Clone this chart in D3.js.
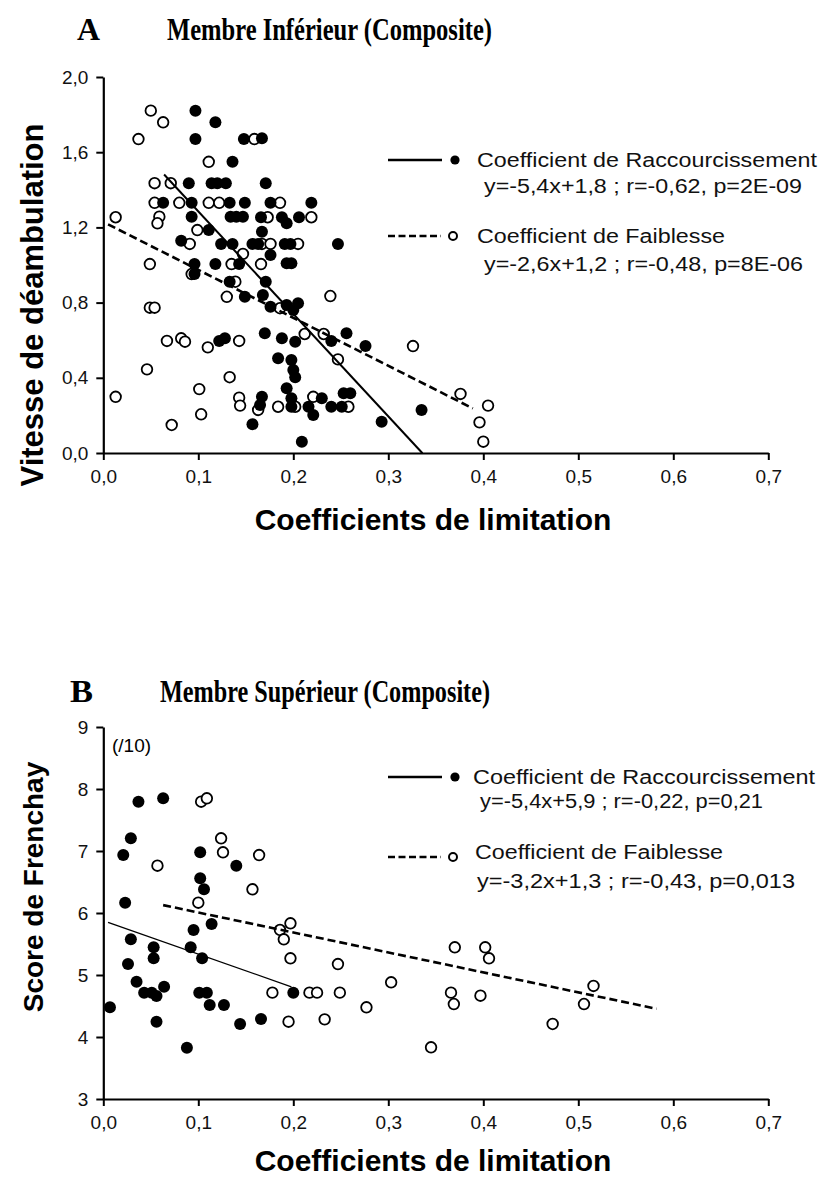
<!DOCTYPE html>
<html><head><meta charset="utf-8">
<script src="https://cdn.jsdelivr.net/npm/d3@7"></script>
<style>body{margin:0;background:#fff}</style>
</head><body>
<svg id="c" width="820" height="1182"></svg>
<script>
// ---------- data ----------
const xTicks = [0, 0.1, 0.2, 0.3, 0.4, 0.5, 0.6, 0.7];
const xTickLabels = ["0,0", "0,1", "0,2", "0,3", "0,4", "0,5", "0,6", "0,7"];
const yTicksA = [0, 0.4, 0.8, 1.2, 1.6, 2.0];
const yTickLabelsA = ["0,0", "0,4", "0,8", "1,2", "1,6", "2,0"];
const yTicksB = [3, 4, 5, 6, 7, 8, 9];
const yTickLabelsB = ["3", "4", "5", "6", "7", "8", "9"];

// Panel A – filled: Coefficient de Raccourcissement
const shortA = [
 [0.097,1.821],[0.118,1.759],[0.097,1.670],[0.148,1.670],[0.136,1.549],[0.090,1.435],[0.114,1.435],[0.120,1.435],
 [0.129,1.435],[0.063,1.331],[0.093,1.331],[0.133,1.331],[0.149,1.331],[0.093,1.257],[0.134,1.257],[0.140,1.257],
 [0.147,1.257],[0.111,1.186],[0.082,1.129],[0.124,1.112],[0.136,1.112],[0.157,1.112],[0.096,1.005],[0.118,1.005],
 [0.143,1.005],[0.096,0.952],[0.133,0.911],[0.149,0.831],[0.122,0.596],[0.128,0.610],[0.157,0.153],[0.167,1.674],
 [0.171,1.435],[0.176,1.331],[0.219,1.331],[0.166,1.254],[0.188,1.254],[0.193,1.222],[0.206,1.254],[0.167,1.177],
 [0.163,1.112],[0.191,1.112],[0.197,1.112],[0.176,1.053],[0.247,1.112],[0.193,1.009],[0.198,1.009],[0.171,0.911],
 [0.168,0.840],[0.176,0.778],[0.193,0.787],[0.205,0.796],[0.200,0.761],[0.170,0.637],[0.188,0.610],[0.202,0.592],
 [0.256,0.637],[0.240,0.596],[0.276,0.569],[0.184,0.504],[0.198,0.495],[0.200,0.441],[0.202,0.403],[0.193,0.344],
 [0.167,0.299],[0.165,0.255],[0.198,0.291],[0.198,0.246],[0.216,0.246],[0.221,0.202],[0.230,0.291],[0.240,0.246],
 [0.251,0.246],[0.253,0.318],[0.260,0.318],[0.335,0.229],[0.293,0.166],[0.209,0.060]
];
// Panel A – open: Coefficient de Faiblesse
const weakA = [
 [0.050,1.821],[0.063,1.759],[0.037,1.670],[0.159,1.670],[0.111,1.549],[0.054,1.435],[0.071,1.435],[0.054,1.331],
 [0.080,1.331],[0.111,1.331],[0.122,1.331],[0.059,1.257],[0.013,1.254],[0.057,1.222],[0.099,1.186],[0.091,1.112],
 [0.049,1.005],[0.135,1.005],[0.166,1.005],[0.147,1.059],[0.186,1.331],[0.173,1.254],[0.219,1.254],[0.167,1.112],
 [0.176,1.112],[0.205,1.112],[0.093,0.952],[0.139,0.911],[0.130,0.831],[0.049,0.773],[0.054,0.773],[0.067,0.596],
 [0.082,0.610],[0.086,0.592],[0.110,0.562],[0.143,0.596],[0.046,0.445],[0.133,0.403],[0.013,0.299],[0.101,0.340],
 [0.143,0.294],[0.144,0.252],[0.163,0.229],[0.103,0.206],[0.072,0.149],[0.239,0.835],[0.186,0.770],[0.212,0.633],
 [0.232,0.633],[0.247,0.498],[0.326,0.569],[0.221,0.299],[0.184,0.246],[0.202,0.246],[0.258,0.246],[0.376,0.314],
 [0.405,0.252],[0.396,0.163],[0.400,0.060]
];
// Panel B – filled
const shortB = [
 [0.037,7.795],[0.063,7.850],[0.029,7.205],[0.021,6.935],[0.102,6.979],[0.140,6.763],[0.102,6.560],[0.106,6.382],
 [0.023,6.166],[0.114,5.823],[0.095,5.726],[0.029,5.576],[0.053,5.447],[0.092,5.447],[0.053,5.269],[0.104,5.269],
 [0.026,5.177],[0.035,4.892],[0.043,4.715],[0.051,4.715],[0.056,4.661],[0.064,4.811],[0.101,4.715],[0.109,4.715],
 [0.112,4.516],[0.127,4.516],[0.007,4.479],[0.056,4.247],[0.144,4.210],[0.088,3.827],[0.200,4.715],[0.166,4.290]
];
// Panel B – open
const weakB = [
 [0.103,7.795],[0.109,7.850],[0.124,7.205],[0.126,6.979],[0.057,6.763],[0.100,6.166],[0.164,6.935],[0.157,6.382],
 [0.197,5.834],[0.186,5.726],[0.190,5.576],[0.197,5.269],[0.247,5.177],[0.178,4.715],[0.217,4.715],[0.225,4.715],
 [0.249,4.715],[0.195,4.247],[0.233,4.285],[0.277,4.479],[0.303,4.882],[0.345,3.834],[0.370,5.447],[0.402,5.447],
 [0.406,5.269],[0.366,4.715],[0.369,4.532],[0.397,4.666],[0.516,4.823],[0.506,4.532],[0.473,4.210]
];
// fitted lines: [slope, intercept, xStart, xEnd]
const fitShortA = [-5.45, 1.83, 0.064, 0.336];
const fitWeakA  = [-2.55, 1.229, 0.005, 0.389];
const fitShortB = [-5.39, 5.877, 0.005, 0.198];
const fitWeakB  = [-3.22, 6.33, 0.063, 0.5825];

const legendA = ["Coefficient de Raccourcissement", "y=-5,4x+1,8 ; r=-0,62, p=2E-09",
                 "Coefficient de Faiblesse", "y=-2,6x+1,2 ; r=-0,48, p=8E-06"];
const legendB = ["Coefficient de Raccourcissement", "y=-5,4x+5,9 ; r=-0,22, p=0,21",
                 "Coefficient de Faiblesse", "y=-3,2x+1,3 ; r=-0,43, p=0,013"];

// ---------- drawing ----------
const svg = d3.select("#c");
const SANS = "'Liberation Sans', Arial, sans-serif";
const SERIF = "'Liberation Serif', 'Times New Roman', serif";

function panel(cfg) {
  const x = d3.scaleLinear().domain([0, 0.7]).range([103.3, 768.3]);
  const y = d3.scaleLinear().domain(cfg.yDomain).range(cfg.yRange);
  const g = svg.append("g");

  // titles
  g.append("text").attr("x", cfg.letterX).attr("y", cfg.titleY)
    .attr("font-family", SERIF).attr("font-weight", "bold").attr("font-size", 32)
    .attr("textLength", 23).attr("lengthAdjust", "spacingAndGlyphs")
    .text(cfg.letter);
  g.append("text").attr("x", cfg.titleX).attr("y", cfg.titleY)
    .attr("font-family", SERIF).attr("font-weight", "bold").attr("font-size", 32)
    .attr("textLength", cfg.titleLen).attr("lengthAdjust", "spacingAndGlyphs")
    .text(cfg.title);

  // axes
  const xa = g.append("g").attr("transform", `translate(0,${cfg.yRange[0]})`)
    .call(d3.axisBottom(x).tickValues(xTicks).tickFormat((d, i) => xTickLabels[i]).tickSize(7).tickSizeOuter(0).tickPadding(10));
  const ya = g.append("g").attr("transform", `translate(103.3,0)`)
    .call(d3.axisLeft(y).tickValues(cfg.yTicks).tickFormat((d, i) => cfg.yLabels[i]).tickSize(7).tickSizeOuter(0).tickPadding(8));
  [xa, ya].forEach(a => {
    a.select(".domain").attr("stroke", "#000").attr("stroke-width", 2.2);
    a.selectAll(".tick line").attr("stroke", "#000").attr("stroke-width", 2);
    a.selectAll(".tick text").attr("font-family", SANS).attr("font-size", 19).attr("fill", "#111");
  });

  // axis titles
  g.append("text").attr("x", 433).attr("y", cfg.yRange[0] + cfg.xTitleOff)
    .attr("text-anchor", "middle").attr("font-family", SANS).attr("font-weight", "bold")
    .attr("font-size", 30).text("Coefficients de limitation");
  g.append("text").attr("transform", `translate(43,${cfg.yLabelCy}) rotate(-90)`)
    .attr("text-anchor", "middle").attr("font-family", SANS).attr("font-weight", "bold")
    .attr("font-size", cfg.yTitleSize).text(cfg.yTitle);

  // points
  g.append("g").selectAll("circle").data(cfg.weak).join("circle")
    .attr("cx", d => x(d[0])).attr("cy", d => y(d[1])).attr("r", 5.3)
    .attr("fill", "#fff").attr("stroke", "#000").attr("stroke-width", 1.8);
  g.append("g").selectAll("circle").data(cfg.short).join("circle")
    .attr("cx", d => x(d[0])).attr("cy", d => y(d[1])).attr("r", 6)
    .attr("fill", "#000");

  // regression lines
  const line = d3.line().x(d => x(d[0])).y(d => y(d[1]));
  const seg = f => [[f[2], f[0] * f[2] + f[1]], [f[3], f[0] * f[3] + f[1]]];
  g.append("path").attr("d", line(seg(cfg.fitShort))).attr("stroke", "#000")
    .attr("stroke-width", cfg.solidW).attr("fill", "none");
  g.append("path").attr("d", line(seg(cfg.fitWeak))).attr("stroke", "#000")
    .attr("stroke-width", 2.6).attr("stroke-dasharray", "8,4").attr("fill", "none");

  // legend
  const L = cfg.leg;
  g.append("line").attr("x1", 388).attr("x2", 442).attr("y1", L.y1).attr("y2", L.y1)
    .attr("stroke", "#000").attr("stroke-width", 2.6);
  g.append("circle").attr("cx", 455).attr("cy", L.y1).attr("r", 4.6).attr("fill", "#000");
  g.append("line").attr("x1", 388).attr("x2", 441).attr("y1", L.y2).attr("y2", L.y2)
    .attr("stroke", "#000").attr("stroke-width", 2.6).attr("stroke-dasharray", "7,3.5");
  g.append("circle").attr("cx", 453).attr("cy", L.y2).attr("r", 4).attr("fill", "#fff")
    .attr("stroke", "#000").attr("stroke-width", 2);
  cfg.legText.forEach((t, i) => {
    g.append("text").attr("x", L.tx[i]).attr("y", L.ty[i]).attr("font-family", SANS)
      .attr("font-size", 20).attr("fill", "#111")
      .attr("textLength", L.tl[i]).attr("lengthAdjust", "spacingAndGlyphs").text(t);
  });
  if (cfg.note) g.append("text").attr("x", 112).attr("y", 752).attr("font-family", SANS)
    .attr("font-size", 19).text(cfg.note);
}

panel({
  letter: "A", letterX: 77, title: "Membre Inférieur (Composite)", titleX: 167, titleY: 40, titleLen: 325,
  yDomain: [0, 2], yRange: [453, 77], yTicks: yTicksA, yLabels: yTickLabelsA,
  yTitle: "Vitesse de déambulation", yLabelCy: 305, yTitleSize: 31, xTitleOff: 77,
  short: shortA, weak: weakA, fitShort: fitShortA, fitWeak: fitWeakA, solidW: 2,
  legText: legendA,
  leg: { y1: 160, y2: 236, tx: [477, 484, 477, 484], ty: [167, 193, 243, 271], tl: [340, 318, 248, 319] }
});
panel({
  letter: "B", letterX: 70, title: "Membre Supérieur (Composite)", titleX: 160, titleY: 702, titleLen: 330,
  yDomain: [3, 9], yRange: [1099, 727], yTicks: yTicksB, yLabels: yTickLabelsB,
  yTitle: "Score de Frenchay", yLabelCy: 887, yTitleSize: 28, xTitleOff: 72,
  short: shortB, weak: weakB, fitShort: fitShortB, fitWeak: fitWeakB, solidW: 1.3,
  legText: legendB, note: "(/10)",
  leg: { y1: 777, y2: 857, tx: [473, 480, 475, 477], ty: [784, 808, 859, 888], tl: [342, 283, 248, 318] }
});
</script>
</body></html>
